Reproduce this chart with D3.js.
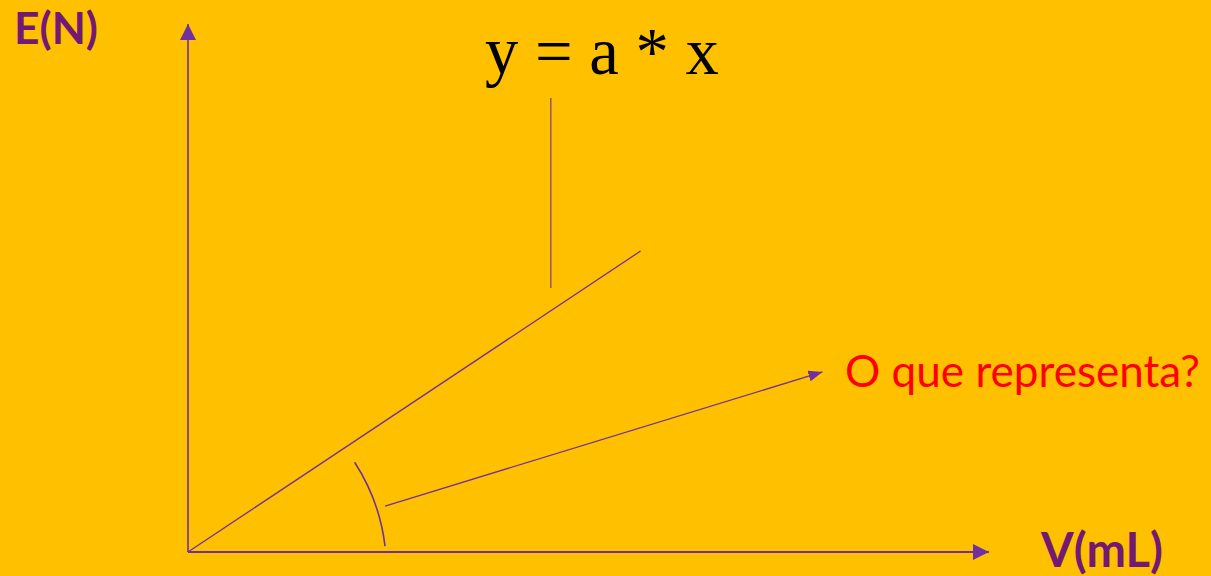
<!DOCTYPE html>
<html>
<head>
<meta charset="utf-8">
<script src="https://cdn.jsdelivr.net/npm/d3@7"></script>
<style>
  html, body { margin: 0; padding: 0; background: #FFC000; }
  svg { display: block; }
</style>
</head>
<body>
<div id="chart"></div>
<script>
// data (abstract units, 0..100 on both axes)
var axisLabels = ["V(mL)", "E(N)"];
var formulaText = "y = a * x";
var questionText = "O que representa?";
var linePoints = [[0, 0], [56.5, 57]];          // y = a * x
var formulaPointer = [[45.3, 50], [45.3, 86]];  // from line up to the formula
var questionArrow = [[24.6, 8.7], [79.2, 34.1]];// from the angle to the question
var angleArc = [[24.6, 1.1], [20.8, 17]];       // arc marking the angle

var width = 1211, height = 576;
var purple = "#7030A0", labelColor = "#731873";

var svg = d3.select("#chart").append("svg")
    .attr("width", width)
    .attr("height", height)
    .style("background", "#FFC000");

var x = d3.scaleLinear().domain([0, 100]).range([188, 989]),
    y = d3.scaleLinear().domain([0, 100]).range([552, 24]);

// arrowheads
var defs = svg.append("defs");
function marker(id, len, wid) {
    defs.append("marker")
        .attr("id", id)
        .attr("viewBox", "0 0 " + len + " " + wid)
        .attr("refX", len).attr("refY", wid / 2)
        .attr("markerUnits", "userSpaceOnUse")
        .attr("markerWidth", len).attr("markerHeight", wid)
        .attr("orient", "auto")
        .append("path")
        .attr("d", "M0,0L" + len + "," + (wid / 2) + "L0," + wid + "Z")
        .attr("fill", purple);
}
marker("axis-head", 16, 16);
marker("small-head", 14, 11);

// axes (no ticks, just the lines with heads)
svg.append("line")
    .attr("x1", x(0)).attr("y1", y(0)).attr("x2", x(100)).attr("y2", y(0))
    .attr("stroke", purple).attr("stroke-width", 2)
    .attr("marker-end", "url(#axis-head)");
svg.append("line")
    .attr("x1", x(0)).attr("y1", y(0)).attr("x2", x(0)).attr("y2", y(100))
    .attr("stroke", purple).attr("stroke-width", 1.6)
    .attr("marker-end", "url(#axis-head)");

var line = d3.line().x(function(d) { return x(d[0]); }).y(function(d) { return y(d[1]); });

svg.append("path").datum(linePoints)
    .attr("d", line).attr("fill", "none")
    .attr("stroke", purple).attr("stroke-width", 1.3);

svg.append("path").datum(formulaPointer)
    .attr("d", line).attr("fill", "none")
    .attr("stroke", purple).attr("stroke-width", 1.1);

svg.append("path").datum(questionArrow)
    .attr("d", line).attr("fill", "none")
    .attr("stroke", purple).attr("stroke-width", 1.3)
    .attr("marker-end", "url(#small-head)");

// angle arc, centred on the origin
var a0 = angleArc[0], a1 = angleArc[1];
var r = Math.hypot(x(a0[0]) - x(0), y(a0[1]) - y(0));
svg.append("path")
    .attr("d", "M" + x(a1[0]) + "," + y(a1[1]) +
               "A" + r + "," + r + " 0 0 1 " + x(a0[0]) + "," + y(a0[1]))
    .attr("fill", "none")
    .attr("stroke", purple).attr("stroke-width", 1.6);

// text, scaled to the reference width
function fitText(sel, w) {
    var fs = parseFloat(sel.attr("font-size"));
    var cur = sel.node().getComputedTextLength();
    sel.attr("font-size", fs * w / cur);
    return sel;
}

fitText(svg.append("text")
    .attr("x", 14).attr("y", 44)
    .attr("font-family", "Lato, 'Open Sans', sans-serif")
    .attr("font-weight", "bold").attr("font-size", 40)
    .attr("fill", labelColor)
    .text(axisLabels[1]), 84);

fitText(svg.append("text")
    .attr("x", 1041).attr("y", 567)
    .attr("font-family", "Lato, 'Open Sans', sans-serif")
    .attr("font-weight", "bold").attr("font-size", 40)
    .attr("fill", labelColor)
    .text(axisLabels[0]), 122);

fitText(svg.append("text")
    .attr("x", 485).attr("y", 74)
    .attr("font-family", "'Liberation Serif', 'Times New Roman', serif")
    .attr("font-size", 60)
    .attr("fill", "#000")
    .attr("xml:space", "preserve")
    .text(formulaText), 234);

fitText(svg.append("text")
    .attr("x", 845).attr("y", 387)
    .attr("font-family", "Lato, 'Open Sans', sans-serif")
    .attr("font-size", 40)
    .attr("fill", "#FF0000")
    .text(questionText), 355);
</script>
</body>
</html>
